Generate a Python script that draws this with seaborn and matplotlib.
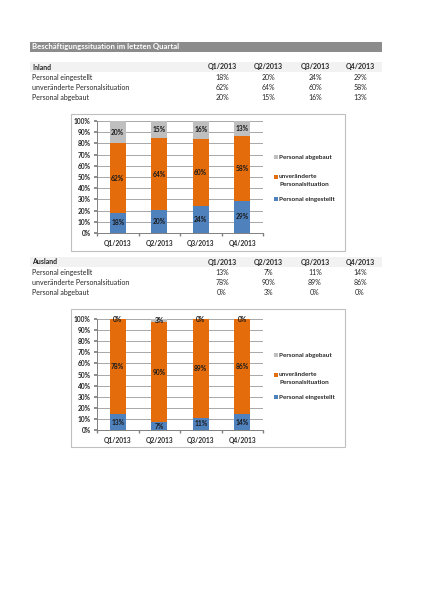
import seaborn as sns
import numpy as np
import matplotlib.pyplot as plt
from matplotlib.patches import Rectangle

quarters = ['Q1/2013', 'Q2/2013', 'Q3/2013', 'Q4/2013']
row_labels = ['Personal eingestellt', 'unveränderte Personalsituation', 'Personal abgebaut']
legend_labels = ['Personal abgebaut', 'unveränderte\nPersonalsituation', 'Personal eingestellt']

inland_eingestellt = [18, 20, 24, 29]
inland_unveraendert = [62, 64, 60, 58]
inland_abgebaut = [20, 15, 16, 13]

ausland_eingestellt = [13, 7, 11, 14]
ausland_unveraendert = [78, 90, 89, 86]
ausland_abgebaut = [0, 3, 0, 0]

colors = ['#4f81bd', '#e46c0a', '#bfbfbf']

sns.set_theme(style='white')
plt.rcParams['font.family'] = ['Lato', 'DejaVu Sans']

W, H = 424, 600
fig = plt.figure(figsize=(W / 100, H / 100), dpi=100)
fig.patch.set_facecolor('white')


def fx(x):
    return x / W


def fy(y):
    return 1 - y / H


def rect(x0, y0, x1, y1, **kw):
    fig.patches.append(Rectangle((fx(x0), fy(y1)), fx(x1) - fx(x0), fy(y0) - fy(y1),
                                 transform=fig.transFigure, zorder=-5, **kw))


# title bar
rect(30, 42, 382, 52, facecolor='#8c8c8c', edgecolor='none')
fig.text(fx(32), fy(47), 'Beschäftigungssituation im letzten Quartal', color='white',
         fontsize=5.6, fontweight='bold', va='center', ha='left')

col_x = [222, 268, 315, 360]


def table(top, name, series):
    rect(30, top - 5, 382, top + 5, facecolor='#f2f2f2', edgecolor='none')
    fig.text(fx(32), fy(top), name, fontsize=5, fontweight='bold', va='center')
    for q, cx in zip(quarters, col_x):
        fig.text(fx(cx), fy(top), q, fontsize=5, fontweight='bold', va='center', ha='center')
    for i, (lab, vals) in enumerate(zip(row_labels, series)):
        yy = top + 10.3 * (i + 1)
        fig.text(fx(32), fy(yy), lab, fontsize=5, va='center')
        for v, cx in zip(vals, col_x):
            fig.text(fx(cx), fy(yy), f'{v}%', fontsize=5, va='center', ha='center')


def chart(box_top, box_bot, ax_top, ax_bot, series):
    rect(71, box_top, 345, box_bot, facecolor='white', edgecolor='#bfbfbf', linewidth=0.8)
    ax = fig.add_axes([fx(97), fy(ax_bot), fx(263) - fx(97), fy(ax_top) - fy(ax_bot)])
    ax.set_zorder(2)
    ax.patch.set_alpha(0)
    total = np.sum(series, axis=0)
    bottom = np.zeros(4)
    for vals, c in zip(series, colors):
        share = np.array(vals) / total
        sns.barplot(x=quarters, y=share, bottom=bottom, color=c, width=0.39,
                    saturation=1, ax=ax, zorder=3, linewidth=0, edgecolor='none')
        for i, (v, s) in enumerate(zip(vals, share)):
            ax.text(i, bottom[i] + s / 2, f'{v}%', ha='center', va='center',
                    fontsize=4.8, fontweight='bold', color='#1a1a1a', zorder=4)
        bottom = bottom + share
    ax.set_ylim(0, 1)
    ax.set_xlim(-0.5, 3.5)
    ax.set_yticks(np.arange(0, 1.01, 0.1))
    ax.set_yticklabels([f'{int(round(t * 100))}%' for t in np.arange(0, 1.01, 0.1)])
    ax.set_xticks(range(4))
    ax.set_xticklabels(quarters)
    ax.set_xticks(np.arange(-0.5, 3.6, 1), minor=True)
    ax.tick_params(axis='x', which='major', length=0, pad=5, labelsize=4.8)
    ax.tick_params(axis='x', which='minor', length=2.5, color='#808080', direction='out', bottom=True)
    ax.tick_params(axis='y', length=2.5, color='#808080', direction='out', pad=2, labelsize=4.8, left=True)
    for lab in ax.get_xticklabels() + ax.get_yticklabels():
        lab.set_fontweight('bold')
    ax.yaxis.grid(True, color='#9a9a9a', linewidth=0.6, zorder=0)
    ax.set_axisbelow(True)
    for s in ['top', 'right']:
        ax.spines[s].set_visible(False)
    for s in ['left', 'bottom']:
        ax.spines[s].set_color('#808080')
        ax.spines[s].set_linewidth(0.7)
    ax.set_xlabel('')
    ax.set_ylabel('')

    # legend
    ys = [ax_top + 36, ax_top + 56, ax_top + 78]
    for (lab, c, yy) in zip(legend_labels, colors[::-1], ys):
        rect(273.5, yy - 2, 277.5, yy + 2, facecolor=c, edgecolor='none')
        fig.text(fx(279), fy(yy - 3.2) if '\n' in lab else fy(yy), lab, fontsize=4.6,
                 fontweight='bold', va='top' if '\n' in lab else 'center', ha='left',
                 linespacing=1.7)
    return ax


table(67, 'Inland', [inland_eingestellt, inland_unveraendert, inland_abgebaut])
chart(114, 251, 121, 233, [inland_eingestellt, inland_unveraendert, inland_abgebaut])

table(262, 'Ausland', [ausland_eingestellt, ausland_unveraendert, ausland_abgebaut])
chart(309, 447, 319, 430, [ausland_eingestellt, ausland_unveraendert, ausland_abgebaut])

fig.savefig('out.png', dpi=100, facecolor='white')
